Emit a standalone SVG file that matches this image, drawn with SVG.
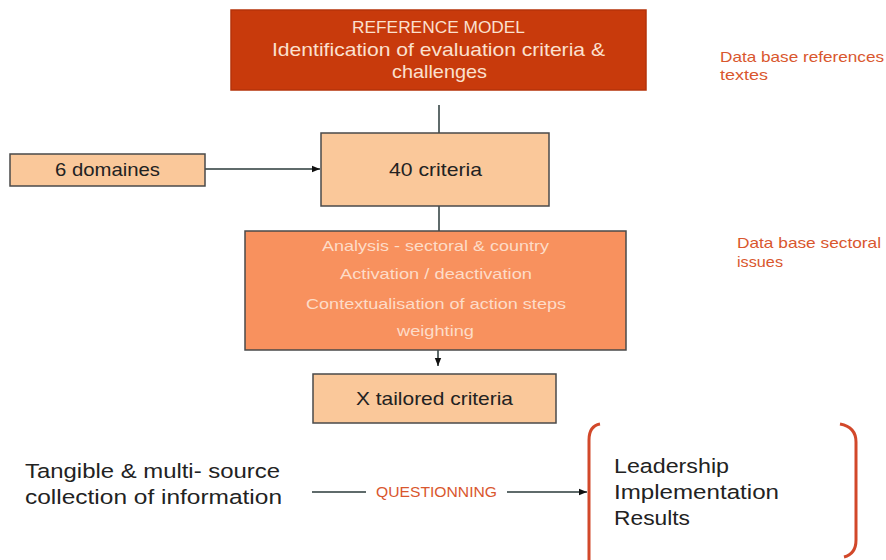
<svg xmlns="http://www.w3.org/2000/svg" width="886" height="560" viewBox="0 0 886 560">
<defs>
<marker id="ah" viewBox="0 0 10 10" refX="10" refY="5" markerWidth="8" markerHeight="8" markerUnits="userSpaceOnUse" orient="auto">
<path d="M0,1 L10,5 L0,9 z" fill="#111"/>
</marker>
<style>
text{font-family:"Liberation Sans",Arial,sans-serif}
.box{stroke:#4a4a4a;stroke-width:1.5}
.light{fill:#FAC89A}
.dark{fill:#222;font-size:18.5px}
.wt{fill:#FBE0CF}
.an{fill:#FDDCC8;font-size:15px}
.note{fill:#D9572E;font-size:14.5px}
.conn{stroke:#2a3a3a;stroke-width:1.5;fill:none}
.br{stroke:#D2482A;stroke-width:3;fill:none}
.big{fill:#222;font-size:20.5px}
</style>
</defs>
<rect width="886" height="560" fill="#fff"/>
<g id="connectors">
<line class="conn" x1="439" y1="105" x2="439" y2="133"/>
<line class="conn" x1="205" y1="169" x2="320" y2="169" marker-end="url(#ah)"/>
<line class="conn" x1="439" y1="206" x2="439" y2="231"/>
<line class="conn" x1="438" y1="350" x2="438" y2="366" marker-end="url(#ah)"/>
<line class="conn" x1="312" y1="492" x2="366" y2="492"/>
<line class="conn" x1="507" y1="492" x2="587" y2="492" marker-end="url(#ah)"/>
<text x="376" y="497" textLength="121" lengthAdjust="spacingAndGlyphs" style="fill:#D9572E;font-size:14.5px">QUESTIONNING</text>
</g>
<g id="reference-model">
<rect x="231" y="10" width="415" height="80" fill="#C83A0C" stroke="#B5330A" stroke-width="1.5"/>
<text class="wt" x="352" y="33" textLength="173" lengthAdjust="spacingAndGlyphs" style="font-size:16.5px">REFERENCE MODEL</text>
<text class="wt" x="272" y="56" textLength="333" lengthAdjust="spacingAndGlyphs" style="font-size:18.5px">Identification of evaluation criteria &amp;</text>
<text class="wt" x="392" y="78" textLength="95" lengthAdjust="spacingAndGlyphs" style="font-size:18.5px">challenges</text>
</g>
<g id="db-references">
<text class="note" x="720" y="62" textLength="164" lengthAdjust="spacingAndGlyphs">Data base references</text>
<text class="note" x="720" y="80" textLength="48" lengthAdjust="spacingAndGlyphs">textes</text>
</g>
<g id="domaines">
<rect class="box light" x="10" y="154" width="195" height="32"/>
<text class="dark" x="55" y="176" textLength="105" lengthAdjust="spacingAndGlyphs">6 domaines</text>
</g>
<g id="criteria40">
<rect class="box light" x="321" y="133" width="228" height="73"/>
<text class="dark" x="389" y="176" textLength="93" lengthAdjust="spacingAndGlyphs">40 criteria</text>
</g>
<g id="analysis">
<rect class="box" x="245" y="231" width="381" height="119" fill="#F8915E"/>
<text class="an" x="322" y="251" textLength="227" lengthAdjust="spacingAndGlyphs">Analysis -  sectoral &amp; country</text>
<text class="an" x="340" y="279" textLength="192" lengthAdjust="spacingAndGlyphs">Activation / deactivation</text>
<text class="an" x="306" y="309" textLength="260" lengthAdjust="spacingAndGlyphs">Contextualisation of action steps</text>
<text class="an" x="397" y="336" textLength="77" lengthAdjust="spacingAndGlyphs">weighting</text>
</g>
<g id="db-sectoral">
<text class="note" x="737" y="248" textLength="144" lengthAdjust="spacingAndGlyphs">Data base sectoral</text>
<text class="note" x="737" y="267" textLength="46" lengthAdjust="spacingAndGlyphs">issues</text>
</g>
<g id="tailored">
<rect class="box light" x="313" y="374" width="243" height="49"/>
<text class="dark" x="356" y="405" textLength="157" lengthAdjust="spacingAndGlyphs">X tailored criteria</text>
</g>
<g id="collection">
<text class="big" x="25" y="478" textLength="255" lengthAdjust="spacingAndGlyphs">Tangible &amp; multi- source</text>
<text class="big" x="25" y="504" textLength="257" lengthAdjust="spacingAndGlyphs">collection of information</text>
</g>
<g id="outcomes">
<path class="br" d="M600,424 Q589,426 589,440 L589,560"/>
<path class="br" d="M840,424 Q856,427 856,442 L856,540 Q856,554 844,557"/>
<text class="big" x="614" y="473" textLength="115" lengthAdjust="spacingAndGlyphs">Leadership</text>
<text class="big" x="614" y="499" textLength="165" lengthAdjust="spacingAndGlyphs">Implementation</text>
<text class="big" x="614" y="525" textLength="76" lengthAdjust="spacingAndGlyphs">Results</text>
</g>
</svg>
